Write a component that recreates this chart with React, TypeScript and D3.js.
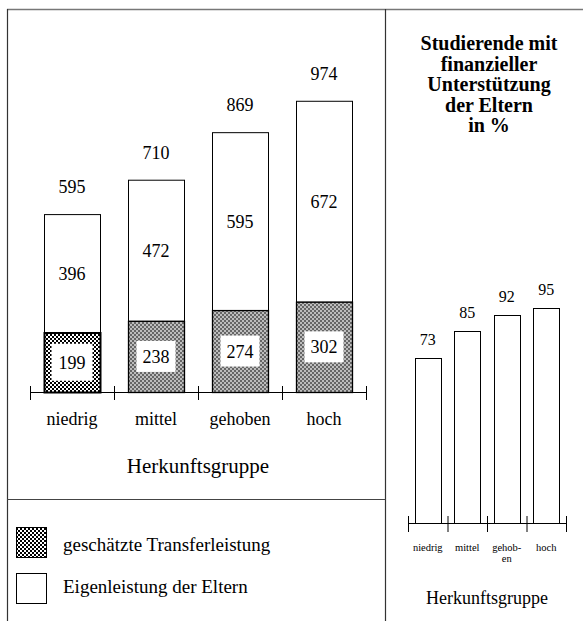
import React from "react";
import * as d3 from "d3";

const categories = ["niedrig", "mittel", "gehoben", "hoch"];
const transferValues = [199, 238, 274, 302];
const eigenValues = [396, 472, 595, 672];
const totalValues = [595, 710, 869, 974];

const shareLabels = [["niedrig"], ["mittel"], ["gehob-", "en"], ["hoch"]];
const shareValues = [73, 85, 92, 95];

const titleLines = ["Studierende mit", "finanzieller", "Unterstützung", "der Eltern", "in %"];
const axisTitle = "Herkunftsgruppe";
const legendLabels = ["geschätzte Transferleistung", "Eigenleistung der Eltern"];

const FONT = "'Liberation Serif', 'Times New Roman', serif";

export default function App() {
  const W = 583;
  const H = 621;

  const xL = d3.scaleBand<string>().domain(categories).range([30, 366]).paddingInner(1 / 3).paddingOuter(1 / 6);
  const yL = d3.scaleLinear().domain([0, 1000]).range([392, 93]);
  const stepL = xL.step();

  const xR = d3.scaleBand<string>().domain(categories).range([408, 566]).paddingInner(0.342).paddingOuter(0.171);
  const yR = d3.scaleLinear().domain([0, 100]).range([523, 297]);
  const stepR = xR.step();

  const ticksL = d3.range(categories.length + 1).map((i) => 30 + i * stepL);
  const ticksR = d3.range(categories.length + 1).map((i) => 408 + i * stepR);

  return (
    <svg width={W} height={H} style={{ position: "absolute", left: 0, top: 0, display: "block" }} fontFamily={FONT}>
      <defs>
        <pattern id="coarse" width="4" height="4" patternUnits="userSpaceOnUse">
          <rect width="4" height="4" fill="#fff" />
          <rect width="2" height="2" fill="#000" />
          <rect x="2" y="2" width="2" height="2" fill="#000" />
        </pattern>
        <pattern id="fine" width="4" height="4" patternUnits="userSpaceOnUse">
          <rect width="4" height="4" fill="#bdbdbd" />
          <rect width="2" height="2" fill="#666" />
          <rect x="2" y="2" width="2" height="2" fill="#666" />
        </pattern>
      </defs>
      <rect width={W} height={H} fill="#fff" />

      {/* frame */}
      <line x1={7} x2={W} y1={9.5} y2={9.5} stroke="#777" strokeWidth={1.5} />
      <line x1={7.5} x2={7.5} y1={9} y2={H} stroke="#333" strokeWidth={1.2} />
      <line x1={385.5} x2={385.5} y1={9} y2={H} stroke="#333" strokeWidth={1.2} />
      <line x1={7} x2={385.5} y1={499.5} y2={499.5} stroke="#444" strokeWidth={1.2} />

      {/* left chart */}
      {categories.map((c, i) => {
        const x = xL(c)!;
        const bw = xL.bandwidth();
        const yT = yL(transferValues[i]);
        const yTot = yL(totalValues[i]);
        const y0 = yL(0);
        const cx = x + bw / 2;
        const midT = (yT + y0) / 2;
        const midE = (yTot + yT) / 2;
        const coarse = i === 0;
        const bwBox = coarse ? 41 : 39;
        const bhBox = coarse ? 37 : 31;
        return (
          <g key={c}>
            <rect x={x + 0.5} y={yTot + 0.5} width={bw} height={yT - yTot} fill="#fff" stroke="#000" strokeWidth={1} />
            <rect x={x + 0.5} y={yT + 0.5} width={bw} height={y0 - yT} fill={coarse ? "url(#coarse)" : "url(#fine)"} stroke="#000" strokeWidth={coarse ? 2 : 1.3} />
            <rect x={cx - bwBox / 2} y={midT - bhBox / 2} width={bwBox} height={bhBox} fill="#fff" />
            <text x={cx} y={midT + 6.5} textAnchor="middle" fontSize={18}>{transferValues[i]}</text>
            <text x={cx} y={midE + 6.5} textAnchor="middle" fontSize={18}>{eigenValues[i]}</text>
            <text x={cx} y={yTot - 21} textAnchor="middle" fontSize={18}>{totalValues[i]}</text>
            <text x={cx} y={425} textAnchor="middle" fontSize={18}>{c}</text>
          </g>
        );
      })}
      <line x1={30} x2={366} y1={392.5} y2={392.5} stroke="#000" strokeWidth={1.2} />
      {ticksL.map((t, i) => (
        <line key={i} x1={t + 0.5} x2={t + 0.5} y1={386} y2={400} stroke="#000" strokeWidth={1} />
      ))}
      <text x={198} y={473} textAnchor="middle" fontSize={21}>{axisTitle}</text>

      {/* legend */}
      <rect x={16.5} y={527.5} width={30} height={30} fill="url(#coarse)" stroke="#000" strokeWidth={1} />
      <text x={63} y={551} fontSize={19}>{legendLabels[0]}</text>
      <rect x={16.5} y={573.5} width={30} height={30} fill="#fff" stroke="#000" strokeWidth={1} />
      <text x={63} y={593} fontSize={19}>{legendLabels[1]}</text>

      {/* right chart */}
      {titleLines.map((l, i) => (
        <text key={i} x={489} y={50 + i * 20.5} textAnchor="middle" fontSize={20} fontWeight="bold">{l}</text>
      ))}
      {categories.map((c, i) => {
        const x = xR(c)!;
        const bw = xR.bandwidth();
        const cx = x + bw / 2;
        const yTop = yR(shareValues[i]);
        return (
          <g key={c}>
            <rect x={Math.round(x) + 0.5} y={Math.round(yTop) + 0.5} width={Math.round(bw)} height={yR(0) - Math.round(yTop)} fill="#fff" stroke="#000" strokeWidth={1} />
            <text x={cx} y={yTop - 13} textAnchor="middle" fontSize={16}>{shareValues[i]}</text>
            {shareLabels[i].map((s, j) => (
              <text key={j} x={cx} y={551 + j * 11} textAnchor="middle" fontSize={10.5}>{s}</text>
            ))}
          </g>
        );
      })}
      <line x1={408} x2={566} y1={523.5} y2={523.5} stroke="#000" strokeWidth={1.2} />
      {ticksR.map((t, i) => (
        <line key={i} x1={t + 0.5} x2={t + 0.5} y1={516} y2={532} stroke="#000" strokeWidth={1} />
      ))}
      <text x={487} y={604} textAnchor="middle" fontSize={18}>{axisTitle}</text>
    </svg>
  );
}
